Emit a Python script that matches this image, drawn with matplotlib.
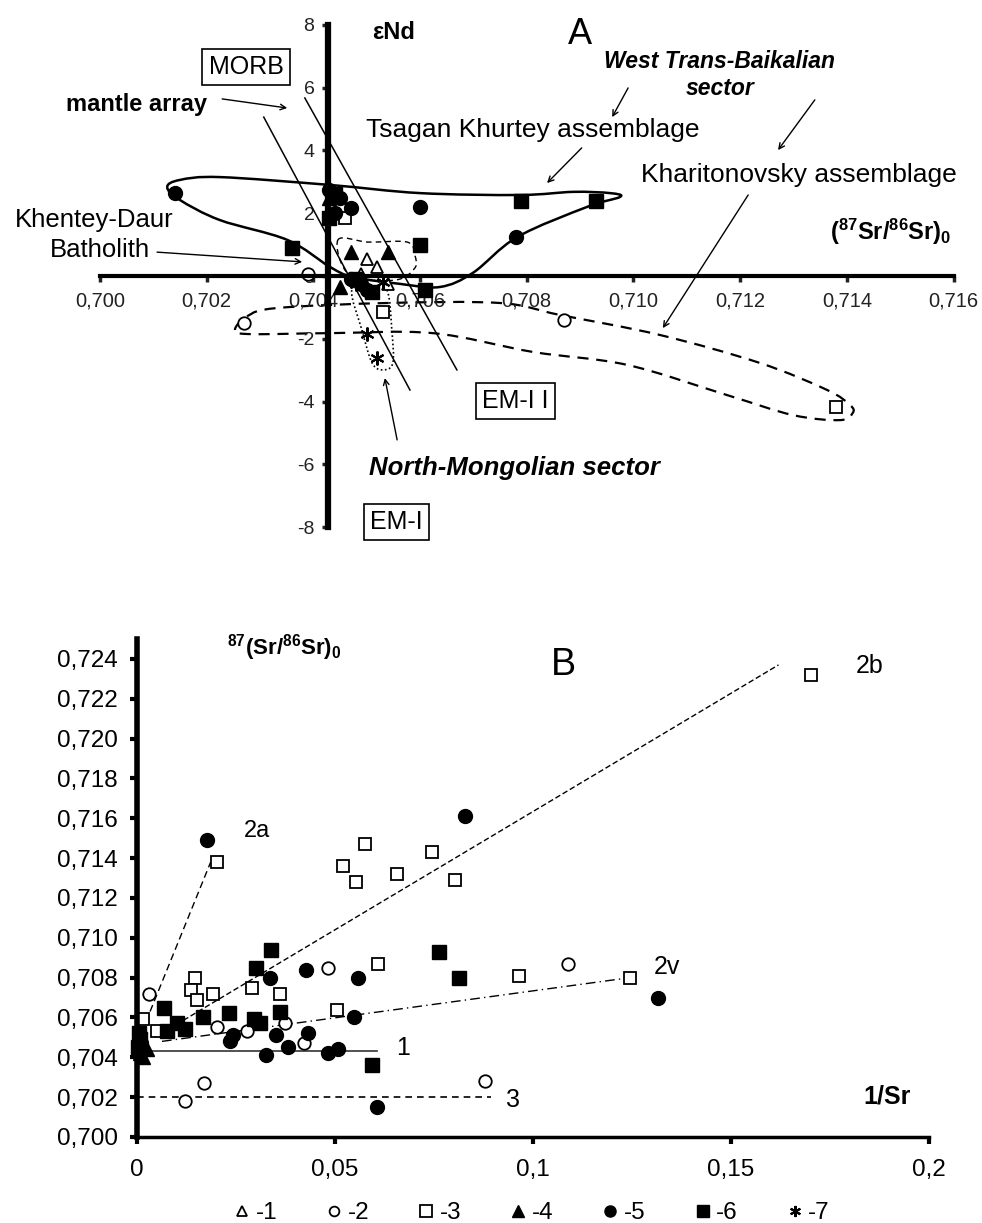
import numpy as np
import matplotlib.pyplot as plt
from matplotlib.path import Path
from matplotlib.patches import PathPatch
from matplotlib.lines import Line2D

plt.rcParams['font.family'] = ['Liberation Sans', 'DejaVu Sans']
plt.rcParams['mathtext.fontset'] = 'custom'
plt.rcParams['mathtext.rm'] = 'Liberation Sans'
plt.rcParams['mathtext.bf'] = 'Liberation Sans:bold'
plt.rcParams['mathtext.it'] = 'Liberation Sans:italic'

# ---------------- A: eNd vs (87Sr/86Sr)0 ----------------
a1_sr = [0.7050, 0.7052, 0.7054, 0.7049]
a1_nd = [0.55, 0.30, -0.25, 0.05]
a2_sr = [0.7027, 0.7087, 0.7039]
a2_nd = [-1.5, -1.4, 0.05]
a3_sr = [0.7046, 0.7053, 0.7138]
a3_nd = [1.85, -1.15, -4.17]
a4_sr = [0.7047, 0.7054, 0.7043, 0.7045]
a4_nd = [0.75, 0.75, 2.5, -0.35]
a5_sr = [0.7014, 0.7060, 0.7078, 0.7043, 0.7045, 0.7047, 0.7044, 0.7049, 0.7050, 0.7047]
a5_nd = [2.65, 2.2, 1.25, 2.75, 2.5, 2.15, 2.0, -0.25, -0.45, -0.1]
a6_sr = [0.7036, 0.7060, 0.7079, 0.7093, 0.7061, 0.7043, 0.7044, 0.7048, 0.7051]
a6_nd = [0.9, 1.0, 2.4, 2.4, -0.45, 1.85, 2.6, -0.1, -0.5]
a7_sr = [0.7050, 0.7052, 0.7048, 0.7051, 0.7053]
a7_nd = [-1.85, -2.6, -0.25, -0.5, -0.2]

# mantle array lines (MORB -> EM-I, MORB -> EM-II)
em1_sr = [0.70307, 0.70581]
em1_nd = [5.06, -3.63]
em2_sr = [0.70384, 0.70669]
em2_nd = [5.67, -2.99]

# field outlines
tk_sr = [0.70126, 0.70150, 0.70225, 0.70431, 0.70600, 0.70787, 0.70887, 0.70956, 0.70975,
         0.70913, 0.70782, 0.70699, 0.70637, 0.70562, 0.70474, 0.70431, 0.70351, 0.70225, 0.70150]
tk_nd = [2.83, 3.06, 3.15, 2.90, 2.64, 2.58, 2.68, 2.64, 2.52,
         2.20, 1.24, 0.10, -0.35, -0.25, -0.03, 0.29, 1.15, 1.78, 2.42]
kh_sr = [0.70253, 0.70277, 0.70332, 0.70538, 0.70750, 0.70862, 0.71050, 0.71237, 0.71363,
         0.71406, 0.71411, 0.71387, 0.71299, 0.71175, 0.70988, 0.70812, 0.70624, 0.70431, 0.70281]
kh_nd = [-1.72, -1.27, -1.02, -0.86, -0.86, -1.24, -1.88, -2.77, -3.63,
         -4.11, -4.36, -4.59, -4.43, -3.79, -2.83, -2.42, -1.82, -1.82, -1.85]
nm_sr = [0.70472, 0.70491, 0.70510, 0.70530, 0.70549, 0.70547, 0.70538, 0.70506]
nm_nd = [-0.45, -1.72, -2.77, -2.99, -2.77, -1.72, -0.45, -0.13]
tr_sr = [0.70446, 0.70503, 0.70576, 0.70590, 0.70590, 0.70553, 0.70468]
tr_nd = [1.15, 1.08, 1.08, 0.67, 0.25, -0.13, 0.03]

# ---------------- B: (87Sr/86Sr)0 vs 1/Sr ----------------
b2_x = [0.0030, 0.0202, 0.0278, 0.0374, 0.0422, 0.0482, 0.0169, 0.0121, 0.0879, 0.1088]
b2_y = [0.7072, 0.7055, 0.7053, 0.7057, 0.7047, 0.7085, 0.7027, 0.7018, 0.7028, 0.7087]
b3_x = [0.0202, 0.0576, 0.0520, 0.0553, 0.0656, 0.0745, 0.0803, 0.1702, 0.0146, 0.0136,
        0.0151, 0.0193, 0.0290, 0.0361, 0.0608, 0.0965, 0.0505, 0.0050, 0.0015, 0.1245]
b3_y = [0.7138, 0.7147, 0.7136, 0.7128, 0.7132, 0.7143, 0.7129, 0.7232, 0.7080, 0.7074,
        0.7069, 0.7072, 0.7075, 0.7072, 0.7087, 0.7081, 0.7064, 0.7053, 0.7059, 0.7080]
b4_x = [0.0015, 0.0025, 0.0008]
b4_y = [0.7040, 0.7044, 0.7042]
b5_x = [0.0177, 0.0828, 0.0336, 0.0427, 0.0558, 0.0548, 0.0432, 0.0351, 0.0381, 0.0242,
        0.0235, 0.0326, 0.0482, 0.0508, 0.0606, 0.1316, 0.0010, 0.0005]
b5_y = [0.7149, 0.7161, 0.7080, 0.7084, 0.7080, 0.7060, 0.7052, 0.7051, 0.7045, 0.7051,
        0.7048, 0.7041, 0.7042, 0.7044, 0.7015, 0.7070, 0.7047, 0.7043]
b6_x = [0.0338, 0.0300, 0.0763, 0.0813, 0.0068, 0.0167, 0.0232, 0.0361, 0.0076, 0.0101,
        0.0121, 0.0295, 0.0311, 0.0594, 0.0005, 0.0008, 0.0003]
b6_y = [0.7094, 0.7085, 0.7093, 0.7080, 0.7065, 0.7060, 0.7062, 0.7063, 0.7053, 0.7057,
        0.7054, 0.7059, 0.7057, 0.7036, 0.7052, 0.7049, 0.7045]

# trend lines
l1_x, l1_y = [0.0, 0.0606], [0.7043, 0.7043]
l3_x, l3_y = [0.0, 0.0895], [0.7020, 0.7020]
l2a_x, l2a_y = [0.0033, 0.0186], [0.7063, 0.7138]
l2b_x, l2b_y = [0.0045, 0.1620], [0.7050, 0.7237]
l2v_x, l2v_y = [0.0063, 0.1245], [0.7048, 0.7080]

xticks_a = [0.700, 0.702, 0.704, 0.706, 0.708, 0.710, 0.712, 0.714, 0.716]
yticks_a = [-8, -6, -4, -2, 0, 2, 4, 6, 8]
xticks_b = [0, 0.05, 0.1, 0.15, 0.2]
xlabels_b = ['0', '0,05', '0,1', '0,15', '0,2']
yticks_b = [0.700, 0.702, 0.704, 0.706, 0.708, 0.710, 0.712, 0.714, 0.716, 0.718, 0.720, 0.722, 0.724]


def smooth_outline(xs, ys, **kw):
    # closed Catmull-Rom outline drawn as cubic Bezier segments
    p = np.column_stack([xs, ys])
    n = len(p)
    verts = [p[0]]
    codes = [Path.MOVETO]
    for i in range(n):
        p0, p1, p2, p3 = p[i - 1], p[i], p[(i + 1) % n], p[(i + 2) % n]
        verts += [p1 + (p2 - p0) / 6, p2 - (p3 - p1) / 6, p2]
        codes += [Path.CURVE4] * 3
    return PathPatch(Path(verts, codes), fill=False, **kw)


def comma(v, d):
    return f'{v:.{d}f}'.replace('.', ',')


mk = dict(color='black', linestyle='none', clip_on=False)
open_kw = dict(mfc='white', mec='black', mew=1.3)

fig = plt.figure(figsize=(9.82, 12.23), dpi=100)

# ===== panel A =====
axA = fig.add_axes([0, 1 - 570 / 1223, 1, 570 / 1223])
axA.set_xlim(0.698126, 0.716533)
axA.set_ylim(-9.363, 8.790)
axA.patch.set_alpha(0)
for s in ['top', 'right']:
    axA.spines[s].set_visible(False)
axA.spines['left'].set_position(('data', 0.70428))
axA.spines['left'].set_bounds(-8, 8)
axA.spines['left'].set_linewidth(4.5)
axA.spines['bottom'].set_position(('data', 0))
axA.spines['bottom'].set_bounds(0.700, 0.716)
axA.spines['bottom'].set_linewidth(3)
axA.set_xticks(xticks_a)
axA.set_xticklabels([comma(v, 3) for v in xticks_a])
axA.set_yticks(yticks_a)
axA.set_yticklabels([str(v) for v in yticks_a])
axA.tick_params(axis='x', direction='out', length=4, width=2.5, labelsize=14.5, pad=7, colors='#222222')
axA.tick_params(axis='y', direction='out', length=4, width=2.5, labelsize=14, pad=6, colors='#222222')

axA.add_patch(smooth_outline(tk_sr, tk_nd, lw=1.8, color='black'))
axA.add_patch(smooth_outline(kh_sr, kh_nd, lw=1.6, color='black', linestyle=(0, (5, 3.5))))
axA.add_patch(smooth_outline(nm_sr, nm_nd, lw=1.2, color='black', linestyle=(0, (1, 1.5))))
axA.add_patch(smooth_outline(tr_sr, tr_nd, lw=1.0, color='black', linestyle=(0, (4, 3))))
axA.plot(em1_sr, em1_nd, color='black', lw=1.1)
axA.plot(em2_sr, em2_nd, color='black', lw=1.1)

axA.plot(a1_sr, a1_nd, marker='^', ms=9, **open_kw, **mk)
axA.plot(a2_sr, a2_nd, marker='o', ms=9, **open_kw, **mk)
axA.plot(a3_sr, a3_nd, marker='s', ms=9, **open_kw, **mk)
axA.plot(a4_sr, a4_nd, marker='^', ms=10, **mk)
axA.plot(a5_sr, a5_nd, marker='o', ms=10, **mk)
axA.plot(a6_sr, a6_nd, marker='s', ms=10, **mk)
axA.plot(a7_sr, a7_nd, marker=(6, 2, 0), ms=10, mew=1.5, **mk)

box = dict(boxstyle='square,pad=0.25', fc='white', ec='black', lw=1.2)
arr = dict(arrowstyle='->', color='black', lw=1.0, shrinkA=0, shrinkB=0)
axA.text(0.70551, 7.77, 'εNd', fontsize=17, fontweight='bold', ha='center', va='center')
axA.text(0.70900, 7.68, 'A', fontsize=26, ha='center', va='center')
axA.text(0.70274, 6.66, 'MORB', fontsize=18, ha='center', va='center', bbox=box)
axA.text(0.70200, 5.45, 'mantle array', fontsize=17, fontweight='bold', ha='right', va='center')
axA.annotate('', xy=(0.70351, 5.35), xytext=(0.70229, 5.64), arrowprops=arr)
axA.text(0.71162, 6.82, 'West Trans-Baikalian', fontsize=16.5, fontweight='bold', style='italic',
         ha='center', va='center')
axA.text(0.71162, 5.96, 'sector', fontsize=16.5, fontweight='bold', style='italic', ha='center', va='center')
axA.annotate('', xy=(0.70960, 5.06), xytext=(0.70990, 5.99), arrowprops=arr)
axA.annotate('', xy=(0.71271, 4.01), xytext=(0.71340, 5.61), arrowprops=arr)
axA.text(0.70812, 4.65, 'Tsagan Khurtey assemblage', fontsize=19, ha='center', va='center')
axA.annotate('', xy=(0.70838, 2.96), xytext=(0.70903, 4.08), arrowprops=arr)
axA.text(0.71310, 3.22, 'Kharitonovsky assemblage', fontsize=19, ha='center', va='center')
axA.annotate('', xy=(0.71055, -1.66), xytext=(0.71215, 2.58), arrowprops=arr)
axA.text(0.71483, 1.40, r'$\mathbf{(^{87}Sr/^{86}Sr)_0}$', fontsize=17, ha='center', va='center')
axA.text(0.69989, 1.78, 'Khentey-Daur', fontsize=18.5, ha='center', va='center')
axA.text(0.70000, 0.83, 'Batholith', fontsize=18.5, ha='center', va='center')
axA.annotate('', xy=(0.70379, 0.45), xytext=(0.70107, 0.76), arrowprops=arr)
axA.text(0.70778, -3.98, 'EM-I I', fontsize=18, ha='center', va='center', bbox=box)
axA.text(0.70555, -7.83, 'EM-I', fontsize=18, ha='center', va='center', bbox=box)
axA.text(0.70776, -6.11, 'North-Mongolian sector', fontsize=18.5, fontweight='bold', style='italic',
         ha='center', va='center')
axA.annotate('', xy=(0.70534, -3.25), xytext=(0.70557, -5.22), arrowprops=arr)

# ===== panel B =====
axB = fig.add_axes([137 / 982, 1 - 1137 / 1223, 792 / 982, 498 / 1223])
axB.set_xlim(0, 0.2)
axB.set_ylim(0.700, 0.725)
for s in ['top', 'right']:
    axB.spines[s].set_visible(False)
axB.spines['left'].set_linewidth(4)
axB.spines['bottom'].set_linewidth(2.5)
axB.set_xticks(xticks_b)
axB.set_xticklabels(xlabels_b)
axB.set_yticks(yticks_b)
axB.set_yticklabels([comma(v, 3) for v in yticks_b])
axB.tick_params(axis='x', direction='out', length=5, width=3, labelsize=17.5, pad=11)
axB.tick_params(axis='y', direction='out', length=5, width=3, labelsize=17.5, pad=9)

axB.plot(l1_x, l1_y, color='#333333', lw=1.2)
axB.plot(l3_x, l3_y, color='black', lw=1.2, linestyle=(0, (4, 3)))
axB.plot(l2a_x, l2a_y, color='black', lw=1.0, linestyle=(0, (5, 3)))
axB.plot(l2b_x, l2b_y, color='black', lw=1.0, linestyle=(0, (4, 2)))
axB.plot(l2v_x, l2v_y, color='black', lw=1.0, linestyle=(0, (7, 3, 1, 3)))

axB.plot(b2_x, b2_y, marker='o', ms=9, **open_kw, **mk)
axB.plot(b3_x, b3_y, marker='s', ms=9, **open_kw, **mk)
axB.plot(b4_x, b4_y, marker='^', ms=10, **mk)
axB.plot(b5_x, b5_y, marker='o', ms=10, **mk)
axB.plot(b6_x, b6_y, marker='s', ms=10, **mk)

axB.text(0.0371, 0.72455, r'$\mathbf{^{87}(Sr/^{86}Sr)_0}$', fontsize=16, ha='center', va='center')
axB.text(0.1076, 0.72369, 'B', fontsize=27, ha='center', va='center')
axB.text(0.1851, 0.72364, '2b', fontsize=18, ha='center', va='center')
axB.text(0.0303, 0.71536, '2a', fontsize=17, ha='center', va='center')
axB.text(0.1338, 0.70853, '2v', fontsize=18, ha='center', va='center')
axB.text(0.0672, 0.70447, '1', fontsize=18, ha='center', va='center')
axB.text(0.0949, 0.70186, '3', fontsize=18, ha='center', va='center')
axB.text(0.1894, 0.70201, '1/Sr', fontsize=18, fontweight='bold', ha='center', va='center')

handles = [
    Line2D([], [], marker='^', ms=7, linestyle='none', **open_kw),
    Line2D([], [], marker='o', ms=7, linestyle='none', **open_kw),
    Line2D([], [], marker='s', ms=8, linestyle='none', **open_kw),
    Line2D([], [], marker='^', ms=8, linestyle='none', color='black'),
    Line2D([], [], marker='o', ms=8, linestyle='none', color='black'),
    Line2D([], [], marker='s', ms=8, linestyle='none', color='black'),
    Line2D([], [], marker=(6, 2, 0), ms=8, mew=1.5, linestyle='none', color='black'),
]
labels = ['-1', '-2', '-3', '-4', '-5', '-6', '-7']
axB.legend(handles, labels, loc='center', bbox_to_anchor=(0.499, -0.153), ncol=7, frameon=False,
           fontsize=17.5, handlelength=0.6, handletextpad=0.25, columnspacing=2.05)

fig.savefig('out.png', dpi=100)
